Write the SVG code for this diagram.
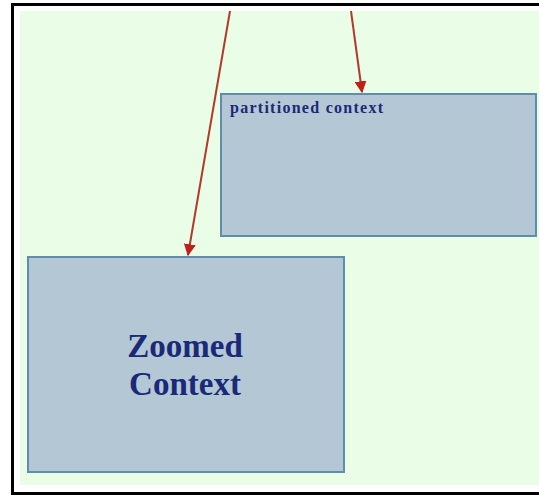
<svg xmlns="http://www.w3.org/2000/svg" width="539" height="495" viewBox="0 0 539 495">
  <defs>
    <style>
      .box { fill: #b3c7d5; stroke: #5f8dab; stroke-width: 2; }
      .conn { stroke: #b23a2a; stroke-width: 2; fill: none; marker-end: url(#arrow); }
      .lbl { font-family: "Liberation Serif", "Times New Roman", serif; font-weight: bold; fill: #1b2a78; }
    </style>
    <marker id="arrow" viewBox="0 0 10 10" refX="9" refY="5" markerWidth="6" markerHeight="6" orient="auto" markerUnits="strokeWidth">
      <path d="M0,0 L10,5 L0,10 z" fill="#c0201c"/>
    </marker>
  </defs>
  <rect x="0" y="0" width="539" height="495" fill="#ffffff"/>
  <rect x="12.5" y="4.5" width="535" height="489" fill="#ffffff" stroke="#000000" stroke-width="3"/>
  <rect x="20" y="11" width="519" height="474" fill="#eafde6"/>

  <g id="partitioned-context">
    <rect class="box" x="221" y="94" width="315" height="142"/>
    <text class="lbl" x="230" y="113" font-size="16" textLength="153" lengthAdjust="spacing">partitioned context</text>
  </g>

  <g id="zoomed-context">
    <rect class="box" x="28" y="257" width="316" height="215"/>
    <text class="lbl" x="185" y="357" font-size="33" text-anchor="middle">Zoomed</text>
    <text class="lbl" x="185" y="395" font-size="33" text-anchor="middle">Context</text>
  </g>

  <g id="connectors">
    <line class="conn" x1="230" y1="11" x2="188" y2="255"/>
    <line class="conn" x1="351" y1="11" x2="362" y2="92"/>
  </g>
</svg>
